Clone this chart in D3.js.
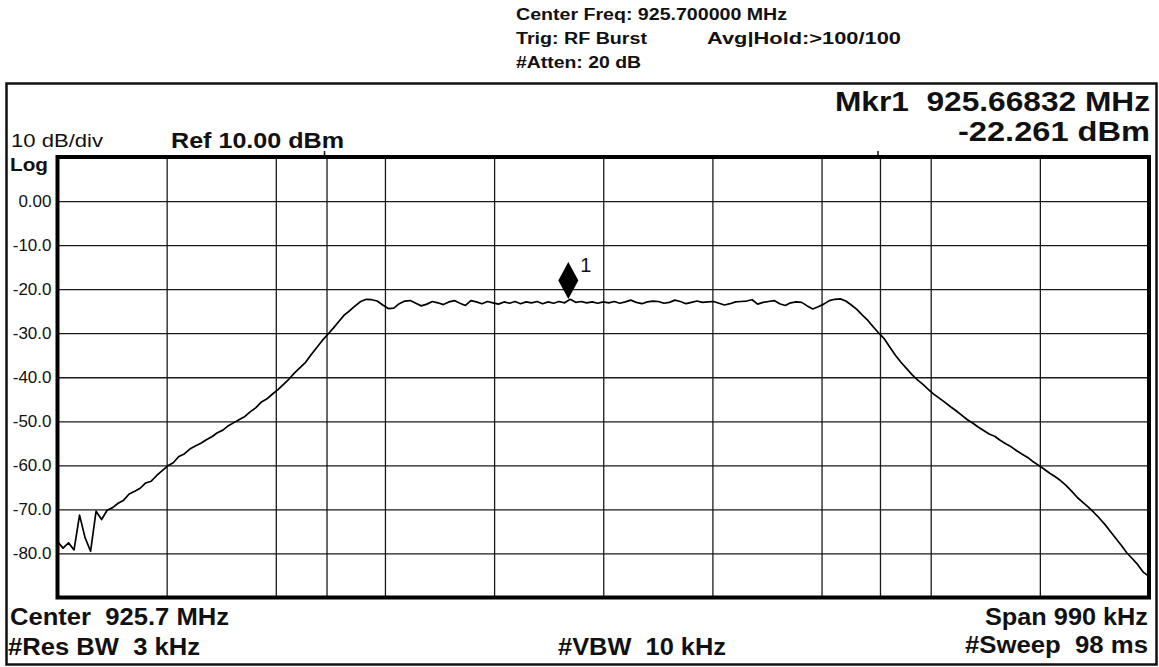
<!DOCTYPE html>
<html>
<head>
<meta charset="utf-8">
<script src="https://cdn.jsdelivr.net/npm/d3@7"></script>
<style>
  html, body { margin: 0; padding: 0; background: #fff; }
  svg { display: block; }
  text { font-family: "Liberation Sans", Arial, Helvetica, sans-serif; fill: #111; white-space: pre; }
</style>
</head>
<body>
<svg id="chart" width="1159" height="667"></svg>
<script>
// ---------------- data ----------------
const centerMHz = 925.7;
const spanKHz = 990;
const refLevelDbm = 10;
const dbPerDiv = 10;
const startOffsetKHz = -495;
const stepKHz = 5;

// trace amplitude (dBm), one value every 5 kHz from -495 kHz to +495 kHz
const traceDbm = [
  -77.3, -78.8, -77.6, -79.2, -71.3, -76.4, -79.5, -70.4, -72.3, -70.2,
  -69.6, -68.6, -67.9, -66.5, -65.9, -65.2, -64.0, -63.6, -62.3, -61.2,
  -60.1, -59.4, -58.0, -57.4, -56.3, -55.6, -55.0, -54.2, -53.5, -52.6,
  -52.0, -51.0, -50.3, -49.6, -48.9, -47.8, -46.9, -45.6, -44.9, -43.8,
  -42.8, -41.6, -40.4, -39.0, -37.8, -36.6, -34.9, -33.3, -31.7, -30.3,
  -28.9, -27.4, -25.9, -24.9, -23.8, -22.8, -22.3, -22.4, -22.7, -23.6,
  -24.4, -24.3, -23.3, -22.7, -22.6, -23.2, -23.8, -23.4, -22.8, -23.1,
  -23.5, -22.9, -22.6, -23.2, -23.7, -22.6, -22.9, -23.3, -22.8, -23.1,
  -23.4, -22.9, -23.2, -22.8, -23.3, -22.9, -23.1, -22.8, -23.3, -22.9,
  -23.2, -22.8, -23.1, -22.3, -23.0, -22.8, -23.1, -22.9, -23.2, -22.9,
  -23.1, -22.8, -23.2, -22.9, -22.5, -23.0, -23.3, -22.9, -22.7, -22.8,
  -23.2, -23.0, -22.5, -22.8, -23.3, -23.0, -22.7, -23.0, -22.9, -22.8,
  -23.2, -23.6, -23.3, -22.9, -22.8, -22.7, -22.4, -23.4, -23.0, -22.8,
  -22.6, -23.3, -23.7, -23.1, -22.9, -23.0, -23.8, -24.5, -24.0, -23.4,
  -22.6, -22.3, -22.2, -22.7, -23.6, -24.6, -25.9, -27.1, -28.6, -30.0,
  -31.3, -33.2, -35.0, -36.6, -38.0, -39.4, -40.6, -41.6, -42.8, -43.9,
  -44.8, -45.7, -46.7, -47.6, -48.6, -49.6, -50.4, -51.3, -52.1, -52.9,
  -53.4, -54.3, -55.1, -55.8, -56.7, -57.5, -58.2, -59.2, -60.0, -60.9,
  -61.8, -62.6, -63.5, -64.6, -65.9, -67.3, -68.4, -69.5, -70.7, -72.0,
  -73.4, -75.0, -76.6, -78.2, -79.9, -81.2, -82.6, -84.3, -85.2
];

const yLabelValues = [0, -10, -20, -30, -40, -50, -60, -70, -80];
const yLabelTexts = ["0.00", "-10.0", "-20.0", "-30.0", "-40.0", "-50.0", "-60.0", "-70.0", "-80.0"];
const displayLinesMHz = [925.449, 925.951];

const markerMHz = 925.66832;
const markerDbm = -22.261;
const markerLabel = "1";

const headerTexts = ["Center Freq: 925.700000 MHz", "Trig: RF Burst", "Avg|Hold:>100/100", "#Atten: 20 dB"];
const markerTexts = ["Mkr1  925.66832 MHz", "-22.261 dBm"];
const topLeftTexts = ["10 dB/div", "Ref 10.00 dBm", "Log"];
const bottomTexts = ["Center  925.7 MHz", "#Res BW  3 kHz", "#VBW  10 kHz", "Span 990 kHz", "#Sweep  98 ms"];

// ---------------- layout ----------------
const svg = d3.select("#chart");
const plot = { left: 57.5, right: 1149, top: 157, bottom: 597.5 };

const x = d3.scaleLinear()
  .domain([centerMHz - spanKHz / 2000, centerMHz + spanKHz / 2000])
  .range([plot.left, plot.right]);
const y = d3.scaleLinear()
  .domain([refLevelDbm - 10 * dbPerDiv, refLevelDbm])
  .range([plot.bottom, plot.top]);

svg.append("rect").attr("width", 1159).attr("height", 667).attr("fill", "#fff");

// outer frame
svg.append("rect")
  .attr("x", 6.5).attr("y", 83.5).attr("width", 1150).attr("height", 581)
  .attr("fill", "none").attr("stroke", "#111").attr("stroke-width", 2.5);

// grid
const xGridValues = d3.range(11).map(k => centerMHz - spanKHz / 2000 + k * spanKHz / 10000);
const yGridValues = d3.range(11).map(k => refLevelDbm - k * dbPerDiv);

const grid = svg.append("g");
grid.append("g")
  .attr("transform", `translate(0,${plot.bottom})`)
  .call(d3.axisBottom(x).tickValues(xGridValues.concat(displayLinesMHz))
    .tickSize(-(plot.bottom - plot.top)).tickFormat(""))
  .call(g => g.select(".domain").remove())
  .call(g => g.selectAll("line").attr("stroke", "#1a1a1a").attr("stroke-width", 1.3));
grid.append("g")
  .attr("transform", `translate(${plot.left},0)`)
  .call(d3.axisLeft(y).tickValues(yGridValues)
    .tickSize(-(plot.right - plot.left)).tickFormat(""))
  .call(g => g.select(".domain").remove())
  .call(g => g.selectAll("line").attr("stroke", "#1a1a1a").attr("stroke-width", 1.3));

// small ticks above the top border at the display lines
svg.selectAll("line.dltick").data(displayLinesMHz).join("line")
  .attr("class", "dltick")
  .attr("x1", d => x(d) - 2).attr("x2", d => x(d) - 2)
  .attr("y1", plot.top - 6).attr("y2", plot.top)
  .attr("stroke", "#111").attr("stroke-width", 1.5);

// y labels
svg.append("g")
  .attr("transform", `translate(${plot.left},0)`)
  .call(d3.axisLeft(y).tickValues(yLabelValues).tickSize(0).tickPadding(6)
    .tickFormat((d, i) => yLabelTexts[i]))
  .call(g => g.select(".domain").remove())
  .call(g => g.selectAll("text")
    .attr("font-size", 17).attr("fill", "#222")
    .style("font-family", "'Liberation Sans', Arial, sans-serif"));

// trace
const line = d3.line()
  .x((d, i) => x(centerMHz + (startOffsetKHz + i * stepKHz) / 1000))
  .y(d => y(d));
svg.append("path")
  .datum(traceDbm)
  .attr("d", line)
  .attr("fill", "none")
  .attr("stroke", "#000")
  .attr("stroke-width", 1.7)
  .attr("stroke-linejoin", "round");

// plot border
svg.append("rect")
  .attr("x", plot.left).attr("y", plot.top)
  .attr("width", plot.right - plot.left).attr("height", plot.bottom - plot.top)
  .attr("fill", "none").attr("stroke", "#000").attr("stroke-width", 4);

// marker
const mx = x(markerMHz), my = y(markerDbm);
svg.append("path")
  .attr("d", `M${mx},${my} L${mx - 10},${my - 18.5} L${mx},${my - 37} L${mx + 10},${my - 18.5} Z`)
  .attr("fill", "#000");
svg.append("text")
  .attr("x", mx + 12).attr("y", my - 27)
  .attr("font-size", 20)
  .text(markerLabel);

// texts
function addText(str, xPos, yPos, size, weight, len, anchor) {
  const t = svg.append("text")
    .attr("x", xPos).attr("y", yPos)
    .attr("font-size", size)
    .attr("font-weight", weight)
    .attr("text-anchor", anchor || "start")
    .text(str);
  if (len) t.attr("textLength", len).attr("lengthAdjust", "spacingAndGlyphs");
  return t;
}

// header
addText(headerTexts[0], 516, 20, 16, "bold", 271);
addText(headerTexts[1], 516, 44, 16, "bold", 131);
addText(headerTexts[2], 707, 44, 16, "bold", 194);
addText(headerTexts[3], 516, 67.5, 16, "bold", 125);

// marker readout
addText(markerTexts[0], 835, 111, 27, "bold", 315);
addText(markerTexts[1], 958, 141, 27, "bold", 192);

// top-left
addText(topLeftTexts[0], 11, 147, 18, "normal", 92);
addText(topLeftTexts[1], 171, 148, 22, "bold", 173);
addText(topLeftTexts[2], 10, 171, 19, "bold", 38);

// bottom
addText(bottomTexts[0], 10, 625, 23, "bold", 219);
addText(bottomTexts[1], 8, 655, 23, "bold", 192);
addText(bottomTexts[2], 558, 655, 23, "bold", 168);
addText(bottomTexts[3], 985, 625, 23, "bold", 163);
addText(bottomTexts[4], 965, 653, 23, "bold", 183);
</script>
</body>
</html>
